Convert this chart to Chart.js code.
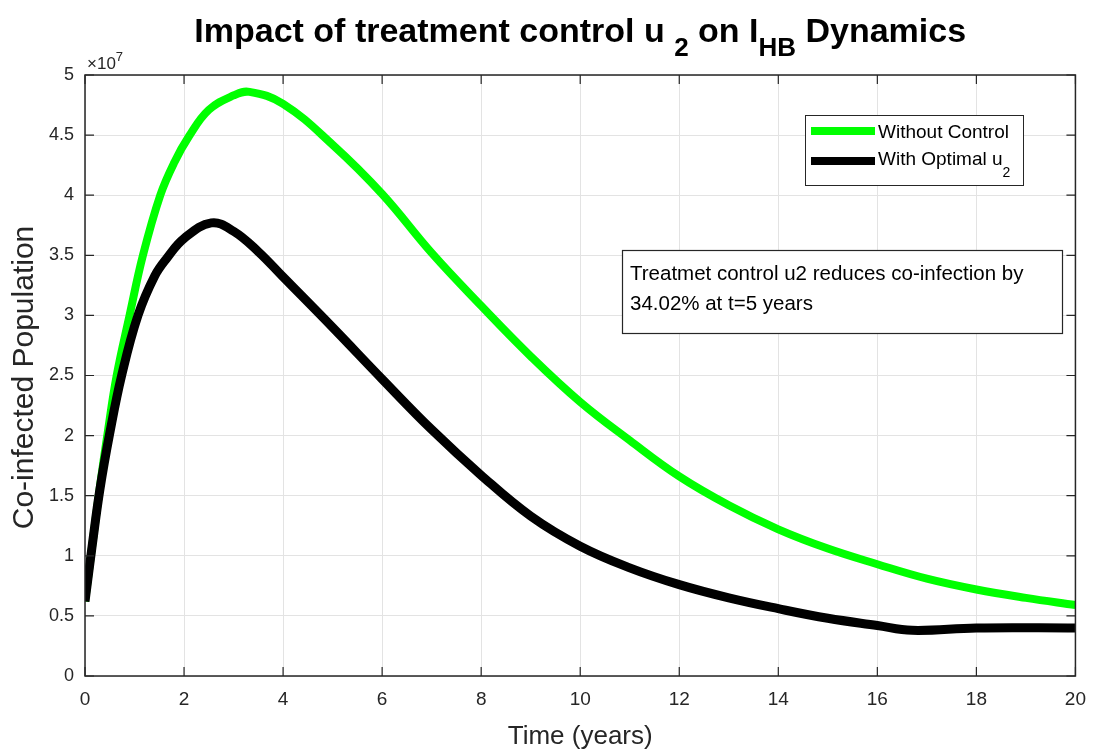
<!DOCTYPE html>
<html>
<head>
<meta charset="utf-8">
<script src="https://cdn.jsdelivr.net/npm/chart.js@4.4.1/dist/chart.umd.min.js"></script>
<style>
html, body { margin: 0; padding: 0; background: #fff; }
#wrap { width: 1098px; height: 751px; position: relative; }
</style>
</head>
<body>
<div id="wrap"><canvas id="chart"></canvas></div>
<script>
// populations are in units of 1e7 (axis shows x10^7)
const timeNoControl = [0, 0.15, 0.3, 0.46, 0.64, 0.9, 1.17, 1.52, 1.8, 2.1, 2.5, 3, 3.32, 4, 5, 6, 7, 8, 9, 10, 11, 12, 13, 14, 15, 16, 17, 18, 19, 20];
const withoutControl = [0.62, 1.1, 1.57, 2.03, 2.5, 3.0, 3.5, 4.0, 4.27, 4.49, 4.71, 4.83, 4.86, 4.76, 4.42, 4.01, 3.52, 3.08, 2.66, 2.28, 1.96, 1.66, 1.42, 1.22, 1.06, 0.93, 0.81, 0.72, 0.65, 0.59];
const timeOptimal = [0, 0.15, 0.3, 0.5, 0.74, 1.07, 1.41, 1.66, 2, 2.55, 3, 3.5, 4, 5, 6, 7, 8, 9, 10, 11, 12, 13, 14, 15, 16, 16.7, 18, 20];
const withOptimalU2 = [0.62, 1.1, 1.55, 2.02, 2.5, 3.0, 3.33, 3.48, 3.64, 3.77, 3.7, 3.53, 3.32, 2.9, 2.47, 2.05, 1.67, 1.33, 1.08, 0.9, 0.76, 0.65, 0.56, 0.48, 0.42, 0.38, 0.40, 0.40];
const xTicks = [0, 2, 4, 6, 8, 10, 12, 14, 16, 18, 20];
const yTicks = [0, 0.5, 1, 1.5, 2, 2.5, 3, 3.5, 4, 4.5, 5];

const FONT = '"Liberation Sans", Arial, sans-serif';
const AX = '#262626';

function toPoints(xs, ys) {
	return xs.map((t, i) => ({ x: t, y: ys[i] }));
}

// draw a run of text pieces, some of them lowered as subscripts
function drawPieces(ctx, pieces, x, y, align) {
	let total = 0;
	pieces.forEach(p => { ctx.font = p.font; total += ctx.measureText(p.text).width; });
	let cx = align === 'center' ? x - total / 2 : x;
	ctx.textAlign = 'left';
	pieces.forEach(p => {
		ctx.font = p.font;
		ctx.fillText(p.text, cx, y + (p.dy || 0));
		cx += ctx.measureText(p.text).width;
	});
}

const matlabFrame = {
	id: 'matlabFrame',
	afterDraw(chart) {
		const { ctx, chartArea: a } = chart;
		const sx = chart.scales.x, sy = chart.scales.y;
		ctx.save();
		// box and inner ticks
		ctx.strokeStyle = AX;
		ctx.lineWidth = 1.5;
		ctx.strokeRect(a.left, a.top, a.right - a.left, a.bottom - a.top);
		ctx.lineWidth = 1.2;
		ctx.beginPath();
		xTicks.forEach(v => {
			const px = sx.getPixelForValue(v);
			ctx.moveTo(px, a.bottom); ctx.lineTo(px, a.bottom - 9);
			ctx.moveTo(px, a.top); ctx.lineTo(px, a.top + 9);
		});
		yTicks.forEach(v => {
			const py = sy.getPixelForValue(v);
			ctx.moveTo(a.left, py); ctx.lineTo(a.left + 9, py);
			ctx.moveTo(a.right, py); ctx.lineTo(a.right - 9, py);
		});
		ctx.stroke();

		// exponent label
		ctx.fillStyle = AX;
		ctx.textBaseline = 'alphabetic';
		drawPieces(ctx, [
			{ text: '\u00d710', font: '17px ' + FONT },
			{ text: '7', font: '13px ' + FONT, dy: -8 }
		], a.left + 2, a.top - 6, 'left');

		// title
		ctx.fillStyle = '#000';
		const tb = 'bold 34px ' + FONT, ts = 'bold 26px ' + FONT;
		drawPieces(ctx, [
			{ text: 'Impact of treatment control u ', font: tb },
			{ text: '2', font: ts, dy: 14 },
			{ text: ' on I', font: tb },
			{ text: 'HB', font: ts, dy: 14 },
			{ text: ' Dynamics', font: tb }
		], (a.left + a.right) / 2, 42, 'center');

		// axis titles
		ctx.fillStyle = AX;
		ctx.textAlign = 'center';
		ctx.textBaseline = 'middle';
		ctx.font = '26px ' + FONT;
		ctx.fillText('Time (years)', (a.left + a.right) / 2, 737);
		ctx.save();
		ctx.translate(25, (a.top + a.bottom) / 2 + 2);
		ctx.rotate(-Math.PI / 2);
		ctx.font = '30px ' + FONT;
		ctx.fillText('Co-infected Population', 0, 0);
		ctx.restore();

		// legend
		ctx.fillStyle = '#fff';
		ctx.fillRect(805, 115, 218, 70);
		ctx.strokeStyle = AX;
		ctx.lineWidth = 1;
		ctx.strokeRect(805.5, 115.5, 218, 70);
		ctx.lineWidth = 8;
		ctx.strokeStyle = '#00ff00';
		ctx.beginPath(); ctx.moveTo(811, 131); ctx.lineTo(875, 131); ctx.stroke();
		ctx.strokeStyle = '#000';
		ctx.beginPath(); ctx.moveTo(811, 161); ctx.lineTo(875, 161); ctx.stroke();
		ctx.fillStyle = '#000';
		ctx.textBaseline = 'alphabetic';
		drawPieces(ctx, [{ text: 'Without Control', font: '19px ' + FONT }], 878, 138, 'left');
		drawPieces(ctx, [
			{ text: 'With Optimal u', font: '19px ' + FONT },
			{ text: '2', font: '14px ' + FONT, dy: 12 }
		], 878, 165, 'left');

		// annotation
		ctx.fillStyle = '#fff';
		ctx.fillRect(622, 250, 440, 83);
		ctx.strokeStyle = AX;
		ctx.lineWidth = 1.2;
		ctx.strokeRect(622.5, 250.5, 440, 83);
		ctx.fillStyle = '#000';
		ctx.font = '20.5px ' + FONT;
		ctx.textAlign = 'left';
		ctx.fillText('Treatmet control u2 reduces co-infection by', 630, 280);
		ctx.fillText('34.02% at t=5 years', 630, 310);
		ctx.restore();
	}
};

const ctx = document.getElementById('chart');
const data = {
	datasets: [{
		label: 'Without Control',
		data: toPoints(timeNoControl, withoutControl),
		borderColor: '#00ff00',
		borderWidth: 8,
		pointRadius: 0,
		tension: 0.4,
		order: 2
	}, {
		label: 'With Optimal u2',
		data: toPoints(timeOptimal, withOptimalU2),
		borderColor: '#000000',
		borderWidth: 9,
		pointRadius: 0,
		tension: 0.4,
		order: 1
	}]
};
const config = {
	type: 'line',
	data: data,
	options: {
		responsive: true,
		maintainAspectRatio: false,
		animation: false,
		layout: { padding: { top: 75, right: 20, left: 0, bottom: 0 } },
		plugins: {
			legend: { display: false },
			title: { display: false },
			tooltip: { enabled: false }
		},
		scales: {
			x: {
				type: 'linear',
				min: 0,
				max: 20,
				afterBuildTicks: s => { s.ticks = xTicks.map(v => ({ value: v })); },
				afterFit: s => { s.height = 75; },
				ticks: { padding: 12, color: AX, maxRotation: 0, font: { family: FONT, size: 19 }, callback: v => String(v) },
				grid: { color: '#e3e3e3', drawTicks: false },
				border: { display: false }
			},
			y: {
				min: 0,
				max: 5,
				afterBuildTicks: s => { s.ticks = yTicks.map(v => ({ value: v })); },
				afterFit: s => { s.width = 85; },
				ticks: { padding: 11, color: AX, font: { family: FONT, size: 18 }, callback: v => String(v) },
				grid: { color: '#e3e3e3', drawTicks: false },
				border: { display: false }
			}
		}
	},
	plugins: [matlabFrame]
};
const chart = new Chart(ctx, config);
</script>
</body>
</html>
